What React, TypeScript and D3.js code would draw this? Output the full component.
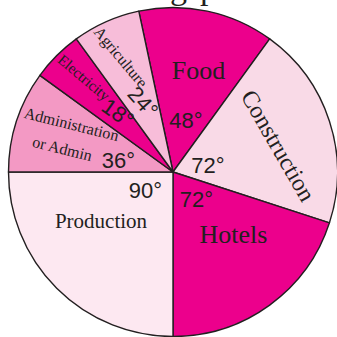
import * as d3 from "d3";
import { useEffect } from "react";

// sectors clockwise from the top, starting with Food
const sectors = ["Food", "Construction", "Hotels", "Production", "Administration", "Electricity", "Agriculture"];
const degrees = [48, 72, 72, 90, 36, 18, 24];
const colors = ["#EC008C", "#F9DAE7", "#EC008C", "#FDE8F1", "#F399C4", "#EC008C", "#F7BDD9"];

// label layout: offset from the pie centre, rotation, font size
const nameLabels = [
  { lines: ["Food"], dx: 25.5, dy: -102, rot: 0, size: 26 },
  { lines: ["Construction"], dx: 105.5, dy: -26.5, rot: 60, size: 24 },
  { lines: ["Hotels"], dx: 60.5, dy: 62, rot: 0, size: 26 },
  { lines: ["Production"], dx: -72, dy: 49, rot: 0, size: 21 },
  { lines: ["Administration", "or Admin"], dx: -101.5, dy: -48, rot: 14, size: 16 },
  { lines: ["Electricity"], dx: -89, dy: -94.5, rot: 40, size: 15 },
  { lines: ["Agriculture"], dx: -52, dy: -115, rot: 50, size: 16 },
];
const valueLabels = [
  { dx: 13, dy: -51.5, rot: 0 },
  { dx: 35, dy: -7, rot: 0 },
  { dx: 23.5, dy: 27, rot: 0 },
  { dx: -27.5, dy: 18, rot: 0 },
  { dx: -54.5, dy: -12, rot: 0 },
  { dx: -55, dy: -59, rot: 35 },
  { dx: -30, dy: -70, rot: 48 },
];

const width = 337;
const height = 337;
const cx = 173;
const cy = 172;
const radius = 164.5;
const ink = "#231F20";
const serif = "'Liberation Serif', 'Times New Roman', serif";
const sans = "'Liberation Sans', Arial, sans-serif";

export default function App() {
  useEffect(() => {
    document.body.style.margin = "0";
  }, []);

  const start = (-12 * Math.PI) / 180;
  const pie = d3
    .pie<number>()
    .sort(null)
    .value((d) => d)
    .startAngle(start)
    .endAngle(start + 2 * Math.PI);
  const arcs = pie(degrees);
  const arc = d3.arc<d3.PieArcDatum<number>>().innerRadius(0).outerRadius(radius);

  return (
    <svg width={width} height={height} viewBox={`0 0 ${width} ${height}`} style={{ display: "block" }}>
      {/* title, cut off above the frame: only descenders show */}
      <text x={187} y={-1.5} textAnchor="end" fontFamily={serif} fontSize={34} fill={ink}>
        The following
      </text>
      <text x={200} y={-1.5} fontFamily={serif} fontSize={34} fill={ink}>
        pie chart
      </text>
      <g transform={`translate(${cx},${cy})`}>
        {arcs.map((a, i) => (
          <path key={sectors[i]} d={arc(a) ?? ""} fill={colors[i]} stroke={ink} strokeWidth={1.4} strokeLinejoin="round" />
        ))}
        {nameLabels.map((l, i) => (
          <text
            key={"n" + i}
            transform={`translate(${l.dx},${l.dy}) rotate(${l.rot})`}
            textAnchor="middle"
            fontFamily={serif}
            fontSize={l.size}
            fill={ink}
          >
            {l.lines.length === 1 ? (
              <tspan x={0} dy="0.35em">{l.lines[0]}</tspan>
            ) : (
              l.lines.map((s, j) => (
                <tspan key={j} x={j === 0 ? 0 : -3} y={j === 0 ? 0 : 26} dy="0.35em">
                  {s}
                </tspan>
              ))
            )}
          </text>
        ))}
        {valueLabels.map((l, i) => (
          <text
            key={"v" + i}
            transform={`translate(${l.dx},${l.dy}) rotate(${l.rot})`}
            textAnchor="middle"
            dy="0.35em"
            fontFamily={sans}
            fontSize={22}
            fill={ink}
          >
            {degrees[i]}°
          </text>
        ))}
      </g>
    </svg>
  );
}
